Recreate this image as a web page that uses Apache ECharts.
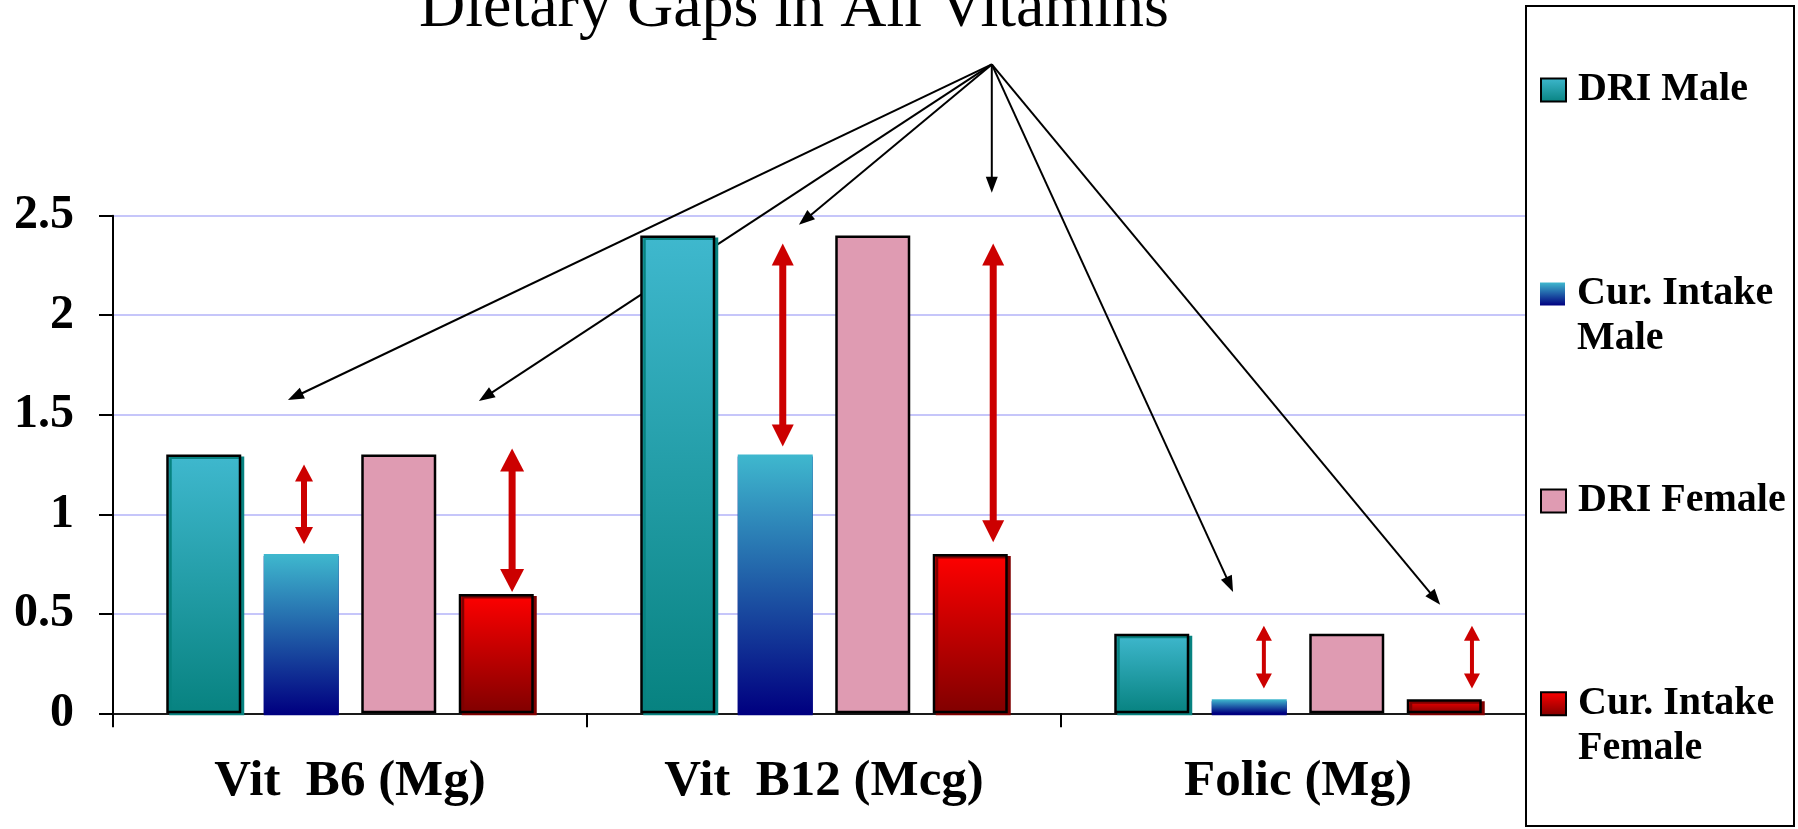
<!DOCTYPE html>
<html><head><meta charset="utf-8">
<script src="https://cdn.jsdelivr.net/npm/echarts@6/dist/echarts.min.js"></script>
<style>html,body{margin:0;padding:0;background:#fff}#c{width:1798px;height:829px}</style>
</head><body><div id="c"></div>
<script>
// ---- data ----
const categories = ['Vit  B6 (Mg)', 'Vit  B12 (Mcg)', 'Folic (Mg)'];
const seriesNames = ['DRI Male', 'Cur. Intake Male', 'DRI Female', 'Cur. Intake Female'];
const driMale = [1.3, 2.4, 0.4];
const curIntakeMale = [0.8, 1.3, 0.07];
const driFemale = [1.3, 2.4, 0.4];
const curIntakeFemale = [0.6, 0.8, 0.07];
const yTicks = ['0', '0.5', '1', '1.5', '2', '2.5'];
// annotation arrows in data space: [category index, offset within category (fraction of band), value]
const pointerOrigin = [1, 0.354, 3.26];
const pointerTargets = [[0, -0.131, 1.574], [0, 0.272, 1.569], [1, -0.053, 2.454], [1, 0.354, 2.615], [2, -0.137, 0.61], [2, 0.30, 0.545]];
// gap arrows: [category index, offset, upper value, lower value]
const gapArrows = [[0, -0.097, 1.25, 0.85], [0, 0.342, 1.33, 0.61], [1, -0.087, 2.36, 1.34], [1, 0.357, 2.36, 0.86], [2, -0.072, 0.44, 0.125], [2, 0.367, 0.44, 0.125]];

// ---- styles ----
const gapArrowStyle = [[6, 18, 17], [7, 24, 23], [7, 22, 22], [7, 22, 22], [4, 16, 15], [4, 16, 15]];
const SERIF = 'Liberation Serif';
const RED = '#CC0000';
function grad(top, bottom) {
  return {type: 'linear', x: 0, y: 0, x2: 0, y2: 1, colorStops: [{offset: 0, color: top}, {offset: 1, color: bottom}]};
}
const barStyles = [
  {color: grad('#3FB8CE', '#078280'), borderColor: '#000', borderWidth: 2.5, shadowColor: '#078280', shadowOffsetX: 3, shadowOffsetY: 2},
  {color: grad('#3FB8CE', '#000080'), borderWidth: 0, shadowColor: '#000080', shadowOffsetX: 0, shadowOffsetY: 2},
  {color: '#DF9BB2', borderColor: '#000', borderWidth: 2.5},
  {color: grad('#FF0000', '#800000'), borderColor: '#000', borderWidth: 2.5, shadowColor: '#800000', shadowOffsetX: 3, shadowOffsetY: 2}
];
const barData = [driMale, curIntakeMale, driFemale, curIntakeFemale];

const chart = echarts.init(document.getElementById('c'), null, {renderer: 'canvas'});

const legendTops = [67.5, 226.5, 478.5, 636.3];
const legends = seriesNames.map((n, i) => ({
  data: [{name: n}],
  orient: 'vertical', left: 1540, top: legendTops[i], padding: 0,
  itemWidth: 25, itemHeight: 23, icon: 'rect', selectedMode: false,
  formatter: name => name.indexOf('Cur. Intake ') === 0 ? ' \n' + name.replace('Cur. Intake ', 'Cur. Intake\n') : name,
  textStyle: {fontFamily: SERIF, fontWeight: 'bold', fontSize: 40, lineHeight: 45, color: '#000', padding: [0, 0, 0, 7]}
}));

const option = {
  animation: false,
  backgroundColor: '#fff',
  title: {
    text: 'Dietary Gaps in All Vitamins', left: 419, top: -23, padding: 0,
    textStyle: {fontFamily: SERIF, fontWeight: 'normal', fontSize: 64, lineHeight: 64, color: '#000'}
  },
  legend: legends,
  grid: {left: 113, top: 215.7, right: 263, bottom: 115.7, containLabel: false},
  xAxis: {
    type: 'category', data: categories,
    axisLine: {lineStyle: {color: '#1a1a1a', width: 2}},
    axisTick: {show: true, length: 14, lineStyle: {color: '#000', width: 2}},
    axisLabel: {interval: 0, margin: 43, fontFamily: SERIF, fontWeight: 'bold', fontSize: 51, lineHeight: 51, color: '#000'}
  },
  yAxis: {
    type: 'value', min: +yTicks[0], max: +yTicks[yTicks.length - 1], interval: yTicks[1] - yTicks[0],
    axisLine: {show: true, lineStyle: {color: '#000', width: 2}},
    axisTick: {show: true, length: 14, lineStyle: {color: '#000', width: 2}},
    axisLabel: {margin: 39, fontFamily: SERIF, fontWeight: 'bold', fontSize: 48, color: '#000'},
    splitLine: {show: true, lineStyle: {color: '#C6C6FA', width: 2}}
  },
  graphic: {elements: [{
    type: 'rect', z: 3, shape: {x: 1526, y: 6, width: 268, height: 820},
    style: {fill: '#fff', stroke: '#000', lineWidth: 2}
  }]},
  series: [
    ...seriesNames.map((n, i) => ({
      name: n, type: 'bar', data: barData[i], barWidth: 75, barGap: '30%',
      itemStyle: barStyles[i], emphasis: {disabled: true}
    })),
    {
      name: 'pointers', type: 'custom', clip: false, silent: true,
      encode: {x: 0, y: 2},
      data: pointerTargets,
      renderItem(params, api) {
        const band = api.size([1, 0])[0];
        const o = api.coord([pointerOrigin[0], pointerOrigin[2]]);
        const ox = o[0] + pointerOrigin[1] * band, oy = o[1];
        const t = api.coord([api.value(0), api.value(2)]);
        const tx = t[0] + api.value(1) * band, ty = t[1];
        const dx = tx - ox, dy = ty - oy, len = Math.hypot(dx, dy);
        const ux = dx / len, uy = dy / len;
        const hl = 16, hw = 6;
        const bx = tx - ux * hl, by = ty - uy * hl;
        return {type: 'group', children: [
          {type: 'line', shape: {x1: ox, y1: oy, x2: bx + ux * 2, y2: by + uy * 2}, style: {stroke: '#000', lineWidth: 2}},
          {type: 'polygon', shape: {points: [[tx, ty], [bx - uy * hw, by + ux * hw], [bx + uy * hw, by - ux * hw]]}, style: {fill: '#000'}}
        ]};
      }
    },
    {
      name: 'gaps', type: 'custom', clip: false, silent: true,
      encode: {x: 0, y: [2, 3]},
      data: gapArrows,
      renderItem(params, api) {
        const band = api.size([1, 0])[0];
        const top = api.coord([api.value(0), api.value(2)]);
        const bot = api.coord([api.value(0), api.value(3)]);
        const x = top[0] + api.value(1) * band;
        const [sw, hw, hl] = gapArrowStyle[params.dataIndex];
        const y1 = top[1], y2 = bot[1];
        return {type: 'group', children: [
          {type: 'rect', shape: {x: x - sw / 2, y: y1 + hl - 1, width: sw, height: (y2 - y1) - 2 * hl + 2}, style: {fill: RED}},
          {type: 'polygon', shape: {points: [[x, y1], [x - hw / 2, y1 + hl], [x + hw / 2, y1 + hl]]}, style: {fill: RED}},
          {type: 'polygon', shape: {points: [[x, y2], [x - hw / 2, y2 - hl], [x + hw / 2, y2 - hl]]}, style: {fill: RED}}
        ]};
      }
    }
  ]
};
chart.setOption(option);
</script>
</body></html>
